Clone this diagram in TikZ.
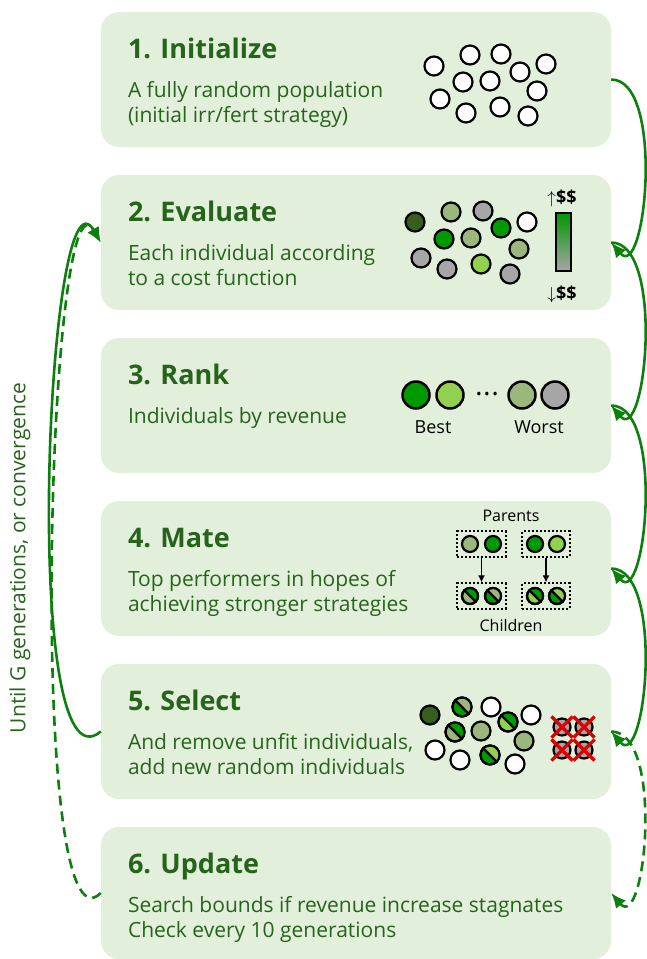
\documentclass[tikz,border=0pt]{standalone}
\usepackage{fontspec}
\setmainfont{Open Sans}
\usepackage{tikz}
\usetikzlibrary{arrows.meta,positioning,fit,calc,shapes.misc}
\definecolor{stagefill}{RGB}{226,239,218}
\definecolor{stagetext}{RGB}{38,100,28}
\definecolor{loopgreen}{RGB}{12,128,12}
\definecolor{indDark}{RGB}{54,94,28}
\definecolor{indGreen}{RGB}{0,153,0}
\definecolor{indSage}{RGB}{155,183,123}
\definecolor{indLight}{RGB}{146,208,80}
\definecolor{indGray}{RGB}{166,166,166}
\definecolor{dropred}{RGB}{222,0,0}
\tikzset{
  stagebox/.style={fill=stagefill, rounded corners=18pt, minimum width=510pt, minimum height=135pt, inner sep=0pt},
  stagetitle/.style={anchor=base west, inner sep=0pt, text=stagetext, font=\fontsize{27}{30}\selectfont\bfseries},
  stagedesc/.style={anchor=base west, inner sep=0pt, align=left, text=stagetext, font=\fontsize{21}{25}\selectfont},
  indiv/.style={circle, draw, line width=2.2pt, minimum size=19pt, inner sep=0pt},
  bigindiv/.style={indiv, line width=2.5pt, minimum size=27pt},
  pairbox/.style={draw, dotted, line width=2pt, inner sep=3.5pt},
  dropmark/.style={cross out, draw=dropred, line width=3.2pt, minimum size=18pt, inner sep=0pt},
  loopflow/.style={-{Latex[length=15pt,width=13pt]}, line width=2.6pt, draw=loopgreen},
  pairflow/.style={-{Latex[length=7pt,width=7pt]}, line width=1.6pt},
  smalltext/.style={inner sep=0pt, font=\fontsize{16}{18}\selectfont}
}
% individual whose genes come from two parents
\newcommand{\mixind}[5]{%
  \node[indiv, minimum size=#3, fill=#5] (#1) at #2 {};
  \begin{scope}
    \clip (#1.center) circle[radius=#3/2];
    \fill[#4] ($(#1.center)+(-#3,-#3)$) -- ++(2*#3,0) -- ++(0,2*#3) -- cycle;
  \end{scope}
  \draw[line width=2.2pt] (#1.135) -- (#1.-45);
  \draw[line width=2.2pt] (#1.center) circle[radius=#3/2];
}

\begin{document}
\begin{tikzpicture}[x=1pt, y=-1pt]
\useasboundingbox (0,0) rectangle (646,959);
% stages
\node[stagebox] (init) at (356,79.5) {};
\node[stagebox] (eval) at (356,242.5) {};
\node[stagebox] (rank) at (356,405.5) {};
\node[stagebox] (mate) at (356,568.5) {};
\node[stagebox] (select) at (356,731.5) {};
\node[stagebox, minimum height=132pt] (update) at (356,893) {};
\node[stagetitle] (initTitle) at ($(init.north west)+(27,47)$) {1. Initialize};
\node[stagedesc] (initText) at ($(init.north west)+(27,111)$) {A fully random population\\(initial irr/fert strategy)};
\node[stagetitle] (evalTitle) at ($(eval.north west)+(27,47)$) {2. Evaluate};
\node[stagedesc] (evalText) at ($(eval.north west)+(27,111)$) {Each individual according\\to a cost function};
\node[stagetitle] (rankTitle) at ($(rank.north west)+(27,47)$) {3. Rank};
\node[stagedesc] (rankText) at ($(rank.north west)+(27,86)$) {Individuals by revenue};
\node[stagetitle] (mateTitle) at ($(mate.north west)+(27,47)$) {4. Mate};
\node[stagedesc] (mateText) at ($(mate.north west)+(27,111)$) {Top performers in hopes of\\achieving stronger strategies};
\node[stagetitle] (selectTitle) at ($(select.north west)+(27,47)$) {5. Select};
\node[stagedesc] (selectText) at ($(select.north west)+(27,111)$) {And remove unfit individuals,\\add new random individuals};
\node[stagetitle] (updateTitle) at ($(update.north west)+(27,47)$) {6. Update};
\node[stagedesc] (updateText) at ($(update.north west)+(27,111)$) {Search bounds if revenue increase stagnates\\Check every 10 generations};

% random population
\node[indiv, fill=white] (init1) at (434,66) {};
\node[indiv, fill=white] (init2) at (470,55) {};
\node[indiv, fill=white] (init3) at (501,54) {};
\node[indiv, fill=white] (init4) at (546,64) {};
\node[indiv, fill=white] (init5) at (520,72) {};
\node[indiv, fill=white] (init6) at (463,82) {};
\node[indiv, fill=white] (init7) at (490,81) {};
\node[indiv, fill=white] (init8) at (537,91) {};
\node[indiv, fill=white] (init9) at (440,99) {};
\node[indiv, fill=white] (init10) at (466,113) {};
\node[indiv, fill=white] (init11) at (500,107) {};
\node[indiv, fill=white] (init12) at (528,116) {};

% scored population
\node[indiv, fill=indDark] (eval1) at (415,222) {};
\node[indiv, fill=indSage] (eval2) at (451,212) {};
\node[indiv, fill=indGray] (eval3) at (483,211) {};
\node[indiv, fill=indGreen] (eval4) at (501,228) {};
\node[indiv, fill=white] (eval5) at (527,222) {};
\node[indiv, fill=indGreen] (eval6) at (444,239) {};
\node[indiv, fill=indSage] (eval7) at (471,238) {};
\node[indiv, fill=indSage] (eval8) at (519,249) {};
\node[indiv, fill=indGray] (eval9) at (421,258) {};
\node[indiv, fill=indGray] (eval10) at (447,269) {};
\node[indiv, fill=indLight] (eval11) at (481,264) {};
\node[indiv, fill=indGray] (eval12) at (510,274) {};
\node[draw, line width=2pt, minimum width=15pt, minimum height=58pt, inner sep=0pt,
  top color=indGreen, middle color=indLight, bottom color=indGray] (costBar) at (563.5,242) {};
\node[inner sep=0pt, font=\fontsize{18}{20}\selectfont\bfseries] (costHigh) at (562,198) {{\fontsize{16}{16}\selectfont$\uparrow$}\$\$};
\node[inner sep=0pt, font=\fontsize{18}{20}\selectfont\bfseries] (costLow) at (562,294) {{\fontsize{16}{16}\selectfont$\downarrow$}\$\$};

% ranking
\node[bigindiv, fill=indGreen] (rankBest) at (416,395) {};
\node[bigindiv, fill=indLight] (rankNext) at (450,395) {};
\node[inner sep=0pt, font=\fontsize{15}{15}\selectfont] (rankDots) at (487,396) {\textbullet\,\textbullet\,\textbullet};
\node[bigindiv, fill=indSage] (rankLow) at (522,395) {};
\node[bigindiv, fill=indGray] (rankWorst) at (555,395) {};
\node[inner sep=0pt, font=\fontsize{18}{20}\selectfont] (bestLabel) at (433,427) {Best};
\node[inner sep=0pt, font=\fontsize{18}{20}\selectfont] (worstLabel) at (539,427) {Worst};

% parents and children
\node[indiv, minimum size=16pt, fill=indSage] (parA1) at (470,544) {};
\node[indiv, minimum size=16pt, fill=indGreen] (parA2) at (493,544) {};
\node[indiv, minimum size=16pt, fill=indGreen] (parB1) at (535,544) {};
\node[indiv, minimum size=16pt, fill=indLight] (parB2) at (557,544) {};
\mixind{kidA1}{(470,596)}{16}{indGreen}{indSage}
\mixind{kidA2}{(493,596)}{16}{indSage}{indGreen}
\mixind{kidB1}{(535,596)}{16}{indGreen}{indLight}
\mixind{kidB2}{(557,596)}{16}{indLight}{indGreen}
\node[pairbox, fit=(parA1)(parA2)] (parA) {};
\node[pairbox, fit=(parB1)(parB2)] (parB) {};
\node[pairbox, fit=(kidA1)(kidA2)] (kidA) {};
\node[pairbox, fit=(kidB1)(kidB2)] (kidB) {};
\draw[pairflow] (parA) -- (kidA);
\draw[pairflow] (parB) -- (kidB);
\node[smalltext] (parentsLabel) at (511,516) {Parents};
\node[smalltext] (childrenLabel) at (511,625) {Children};

% next population
\node[indiv, fill=indDark] (sel1) at (430,715) {};
\mixind{sel2}{(462,707)}{19}{indSage}{indGreen}
\node[indiv, fill=white] (sel3) at (491,707) {};
\node[indiv, fill=white] (sel4) at (531,715) {};
\mixind{sel5}{(455,732)}{19}{indGreen}{indSage}
\node[indiv, fill=indSage] (sel6) at (481,731) {};
\mixind{sel7}{(508,722)}{19}{indGreen}{indLight}
\node[indiv, fill=indSage] (sel8) at (524,741) {};
\node[indiv, fill=white] (sel9) at (435,750) {};
\node[indiv, fill=white] (sel10) at (460,760) {};
\mixind{sel11}{(490,755)}{19}{indLight}{indGreen}
\node[indiv, fill=white] (sel12) at (515,764) {};
\node[indiv, minimum size=17pt, fill=indGray] (drop1) at (562,727) {};
\node[indiv, minimum size=17pt, fill=indGray] (drop2) at (584,727) {};
\node[indiv, minimum size=17pt, fill=indGray] (drop3) at (562,750) {};
\node[indiv, minimum size=17pt, fill=indGray] (drop4) at (584,750) {};
\node[dropmark] (dropX1) at (drop1) {};
\node[dropmark] (dropX2) at (drop2) {};
\node[dropmark] (dropX3) at (drop3) {};
\node[dropmark] (dropX4) at (drop4) {};

% flow between stages
\draw[loopflow] (init.east) to[out=0, in=-50, looseness=0.85] (eval.east);
\draw[loopflow] (eval.east) to[out=0, in=-50, looseness=0.85] (rank.east);
\draw[loopflow] (rank.east) to[out=0, in=-50, looseness=0.85] (mate.east);
\draw[loopflow] (mate.east) to[out=0, in=-50, looseness=0.85] (select.east);
\draw[loopflow, dashed, dash pattern=on 10pt off 6pt] (select.east) to[out=0, in=-50, looseness=0.85] (update.east);
\draw[loopflow] (select.west) to[out=-140, in=120, looseness=0.56] (eval.west);
\draw[loopflow, dashed, dash pattern=on 10pt off 6pt] (update.west) to[out=-135, in=120, looseness=0.42] (eval.west);
\node[rotate=90, inner sep=0pt, text=stagetext, font=\fontsize{21}{23}\selectfont] (untilNote) at (20,558) {Until $\mathrm{G}$ generations, or convergence};
\end{tikzpicture}
\end{document}
